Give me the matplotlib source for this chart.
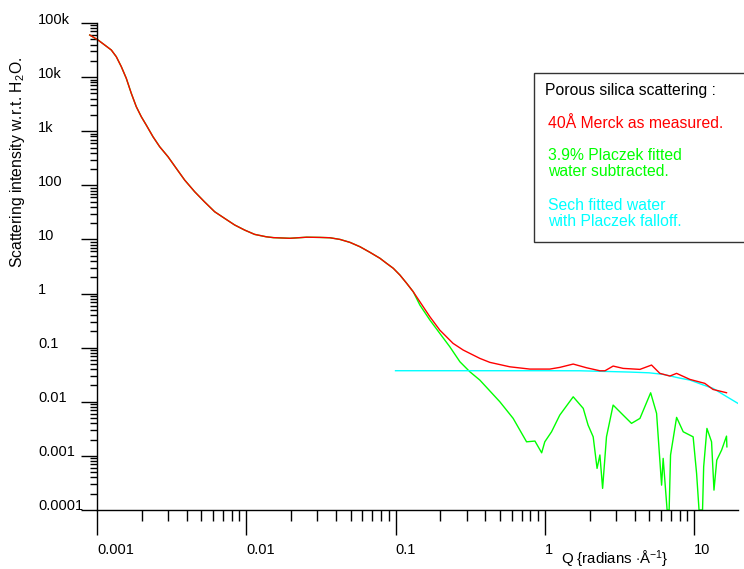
import matplotlib
matplotlib.use("Agg")
import matplotlib.pyplot as plt
import matplotlib.patches as patches
from matplotlib.ticker import LogLocator, NullFormatter
from matplotlib.transforms import ScaledTranslation

plt.rcParams['font.family'] = ['Liberation Sans', 'DejaVu Sans']
plt.rcParams['mathtext.fontset'] = 'custom'
plt.rcParams['mathtext.rm'] = 'Liberation Sans'
plt.rcParams['mathtext.it'] = 'Liberation Sans:italic'

#=======# data #=======#
# part shared by measured and subtracted curves
q_common = [0.000894, 0.001016, 0.001126, 0.001247, 0.001347, 0.001455, 0.001571, 0.001697,
            0.001833, 0.00198, 0.002138, 0.002372, 0.00263, 0.00299, 0.003397, 0.003868,
            0.004512, 0.005242, 0.006143, 0.007165, 0.008362, 0.009756, 0.01138, 0.01361,
            0.0152, 0.0196, 0.0254, 0.0312, 0.03635, 0.0425, 0.04951, 0.0578, 0.0674,
            0.0787, 0.0872, 0.0966, 0.107, 0.1187, 0.1314]
i_common = [60000, 48500, 39200, 31700, 23800, 15600, 9500, 5020,
            2840, 1855, 1300, 791, 517, 338, 206, 125,
            76.2, 49.8, 32.5, 24.5, 18.5, 14.9, 12.4, 11.2,
            10.8, 10.5, 11.0, 10.9, 10.75, 10.0, 8.83, 7.33, 5.78,
            4.48, 3.61, 2.93, 2.20, 1.55, 1.08]

# measured (red) after the split
q_red = [0.1456, 0.170, 0.198, 0.243, 0.284, 0.367, 0.4285, 0.583, 0.794, 1.08, 1.26,
         1.55, 1.905, 2.34, 2.53, 2.87, 3.35, 4.34, 5.19, 5.90, 6.89, 7.64, 9.38,
         11.8, 13.4, 16.5]
i_red = [0.706, 0.372, 0.211, 0.120, 0.0904, 0.0634, 0.0535, 0.0443, 0.0402, 0.0402, 0.0432,
         0.0498, 0.0425, 0.0374, 0.0374, 0.0457, 0.0414, 0.0397, 0.0477, 0.0335, 0.0299, 0.0335, 0.0259,
         0.0219, 0.0169, 0.0147]

# water subtracted (green) after the split
q_green = [0.1456, 0.170, 0.198, 0.231, 0.270, 0.315, 0.367, 0.500, 0.614, 0.755, 0.859, 0.953, 1.0,
           1.11, 1.26, 1.55, 1.81, 1.95, 2.11, 2.24, 2.34, 2.44, 2.59, 2.87, 3.35, 3.81,
           4.34, 5.12, 5.61, 6.06, 6.21, 6.6, 6.81, 6.96, 7.64, 8.46, 9.86, 10.4, 10.8,
           11.4, 11.6, 12.2, 13.1, 13.6, 14.2, 15.3, 16.5, 16.6]
i_green = [0.613, 0.3236, 0.1837, 0.104, 0.0549, 0.0358, 0.0252, 0.0100, 0.00493, 0.00182, 0.00188, 0.00114, 0.00182,
           0.00279, 0.00567, 0.01236, 0.00755, 0.00371, 0.00225, 0.000587, 0.00104, 0.000251, 0.00225, 0.00869, 0.00567, 0.00399,
           0.00493, 0.01466, 0.00611, 0.000288, 0.0009, 0.0001, 0.0001, 0.00104, 0.00515, 0.00279, 0.00225, 0.000474, 0.0001,
           0.0001, 0.00063, 0.00322, 0.00182, 0.000233, 0.000836, 0.00128, 0.00232, 0.00147]

# sech fitted water (cyan)
q_cyan = [0.1, 0.3, 1.0, 1.72, 3.72, 5.0, 6.21, 8.0, 9.38, 11.5, 13.4, 16.5, 19.7]
i_cyan = [0.0375, 0.0375, 0.0375, 0.0374, 0.0354, 0.0343, 0.0321, 0.0274, 0.0252, 0.0205, 0.0177, 0.0125, 0.00933]

x_ticks = [0.001, 0.01, 0.1, 1, 10]
x_tick_labels = ["0.001", "0.01", "0.1", "1", "10"]
y_ticks = [1e5, 1e4, 1e3, 1e2, 10, 1, 0.1, 0.01, 0.001, 0.0001]
y_tick_labels = ["100k", "10k", "1k", "100", "10", "1", "0.1", "0.01", "0.001", "0.0001"]

#=======# figure #=======#
W, H = 744, 569
fig = plt.figure(figsize=(W / 100, H / 100), dpi=100)
ax = fig.add_axes([97 / W, 1 - 510 / H, (738 - 97) / W, (510 - 23) / H])

ax.plot(q_common + q_green, i_common + i_green, color='#00ff00', lw=1.0, clip_on=False)
ax.plot(q_cyan, i_cyan, color='#00ffff', lw=1.0)
ax.plot(q_common + q_red, i_common + i_red, color='#ff0000', lw=1.0, clip_on=False)

ax.set_xscale('log')
ax.set_yscale('log')
ax.set_xlim(1e-3, 19.7)
ax.set_ylim(1e-4, 1e5)

for s in ['top', 'right']:
    ax.spines[s].set_visible(False)
for s in ['left', 'bottom']:
    ax.spines[s].set_linewidth(1.0)

ax.set_xticks(x_ticks, x_tick_labels)
ax.xaxis.set_minor_locator(LogLocator(base=10, subs=range(2, 10), numticks=100))
ax.xaxis.set_minor_formatter(NullFormatter())
ax.set_yticks(y_ticks)
ax.yaxis.set_minor_locator(LogLocator(base=10, subs=range(2, 10), numticks=100))
ax.yaxis.set_minor_formatter(NullFormatter())

ax.tick_params(axis='x', which='major', direction='out', length=18, width=1.0, labelsize=10.5, pad=6)
ax.tick_params(axis='x', which='minor', direction='out', length=8, width=1.0)
ax.tick_params(axis='y', which='major', direction='out', length=11.5, width=1.0, labelleft=False)
ax.tick_params(axis='y', which='minor', direction='out', length=5, width=1.0)
plt.setp(ax.get_xticklabels(), ha='left')

# y tick labels, left aligned as in the original
off = ScaledTranslation(0, 3.5 / 100, fig.dpi_scale_trans)
for v, lab in zip(y_ticks, y_tick_labels):
    ax.text(-59 / 641, v, lab, transform=ax.get_yaxis_transform() + off,
            ha='left', va='center', fontsize=10.5, clip_on=False)

fig.text(18 / W, 1 - 162 / H, 'Scattering intensity w.r.t. H$_2$O.', rotation=90,
         ha='center', va='center', fontsize=11.3)
fig.text(561 / W, 1 - 559 / H, 'Q {radians $\\cdot$Å$^{-1}$}', ha='left', va='center', fontsize=10.8)

#=======# legend box #=======#
box = patches.Rectangle((534 / W, 1 - 242 / H), 0.30, (242 - 73) / H, transform=fig.transFigure,
                        facecolor='white', edgecolor='#333333', lw=1.0)
fig.patches.append(box)
legend_lines = [("Porous silica scattering :", 'black', 545, 90),
                ("40Å Merck as measured.", '#ff0000', 548, 123),
                ("3.9% Placzek fitted", '#00ff00', 548, 156),
                ("water subtracted.", '#00ff00', 548, 172),
                ("Sech fitted water", '#00ffff', 548, 205),
                ("with Placzek falloff.", '#00ffff', 548, 221)]
for txt, col, px, py in legend_lines:
    fig.text(px / W, 1 - py / H, txt, color=col, ha='left', va='center', fontsize=11.3)

fig.savefig("out.png", dpi=100)
